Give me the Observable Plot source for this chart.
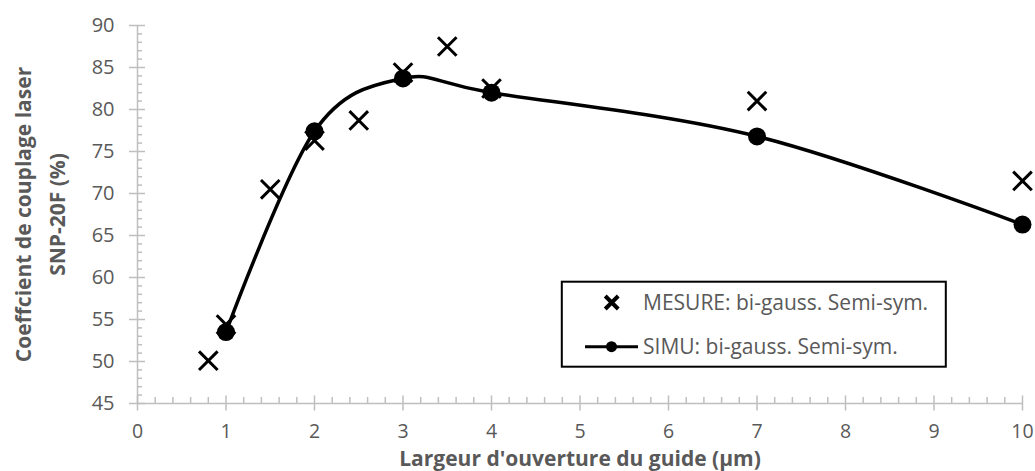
<!DOCTYPE html>
<html>
<head>
<meta charset="utf-8">
<script src="https://cdn.jsdelivr.net/npm/d3@7"></script>
<script src="https://cdn.jsdelivr.net/npm/@observablehq/plot@0.6"></script>
<style>
  html, body { margin: 0; padding: 0; background: #fff; }
  #wrap { position: relative; width: 1035px; height: 471px; font-family: "Open Sans", sans-serif; }
  #legend { position: absolute; left: 0; top: 0; pointer-events: none; }
</style>
</head>
<body>
<div id="wrap"></div>
<script>
// ---- Data ----
const mesureX = [0.8, 1, 1.5, 2, 2.5, 3, 3.5, 4, 7, 10];
const mesureY = [50.1, 54.4, 70.5, 76.3, 78.7, 84.4, 87.5, 82.5, 81.0, 71.5];
const simuX = [1, 2, 3, 4, 7, 10];
const simuY = [53.5, 77.4, 83.7, 82.0, 76.8, 66.3];
const xTicks = [0, 1, 2, 3, 4, 5, 6, 7, 8, 9, 10];
const yTicks = [45, 50, 55, 60, 65, 70, 75, 80, 85, 90];
const xLabel = "Largeur d'ouverture du guide (µm)";
const yLabel = "Coeffcient de couplage laser\nSNP-20F (%)";
const seriesNames = ["MESURE: bi-gauss. Semi-sym.", "SIMU: bi-gauss. Semi-sym."];

const mesure = mesureX.map((x, i) => ({x, y: mesureY[i]}));
const simu = simuX.map((x, i) => ({x, y: simuY[i]}));
const xMinor = d3.range(0, 10.0001, 0.2).map(v => +v.toFixed(1)).filter(v => Math.abs(v - Math.round(v)) > 1e-6);
const yMinor = d3.range(45, 90.0001, 1).filter(v => v % 5 !== 0);

const axisColor = "#bfbfbf";
const textColor = "#595959";

const chart = Plot.plot({
  width: 1035,
  height: 471,
  marginLeft: 137,
  marginRight: 13,
  marginTop: 25,
  marginBottom: 68,
  style: {fontFamily: "Open Sans", background: "white", overflow: "visible"},
  x: {domain: [0, 10]},
  y: {domain: [45, 90]},
  marks: [
    Plot.ruleX([0], {stroke: axisColor, strokeWidth: 1.5}),
    Plot.ruleY([45], {stroke: axisColor, strokeWidth: 1.5}),
    // y ticks
    Plot.axisY(yMinor, {tickSize: 5, dx: 5, text: null, label: null, stroke: axisColor, strokeWidth: 1.5}),
    Plot.axisY(yTicks, {tickSize: 16, dx: 8, text: null, label: null, stroke: axisColor, strokeWidth: 1.5}),
    Plot.axisY(yTicks, {tickSize: 0, tickPadding: 23, label: null, fontSize: 20, fill: textColor}),
    // x ticks
    Plot.axisX(xMinor, {tickSize: 6, dy: -6, text: null, label: null, stroke: axisColor, strokeWidth: 1.5}),
    Plot.axisX(xTicks, {tickSize: 15, dy: -7.5, text: null, label: null, stroke: axisColor, strokeWidth: 1.5}),
    Plot.axisX(xTicks, {tickSize: 0, tickPadding: 21, label: null, fontSize: 19.5, fill: textColor}),
    // axis titles
    Plot.text([xLabel], {text: d => d, frameAnchor: "bottom", textAnchor: "middle", dy: 56, lineAnchor: "middle", fontSize: 21, fontWeight: "bold", fill: textColor}),
    Plot.text([yLabel], {text: d => d, frameAnchor: "left", textAnchor: "middle", dx: -100, rotate: -90, lineAnchor: "middle", lineHeight: 1.6, fontSize: 21, fontWeight: "bold", fill: textColor}),
    // data
    Plot.dot(mesure, {x: "x", y: "y", symbol: "times", r: 8.5, stroke: "black", strokeWidth: 3}),
    Plot.line(simu, {x: "x", y: "y", curve: "cardinal", stroke: "black", strokeWidth: 3.5}),
    Plot.dot(simu, {x: "x", y: "y", r: 9, fill: "black"})
  ]
});
const wrap = document.getElementById("wrap");
wrap.appendChild(chart);

// ---- Legend (overlay) ----
const svg = d3.select(wrap).append("svg").attr("id", "legend")
  .attr("width", 1035).attr("height", 471);
svg.append("rect").attr("x", 561.8).attr("y", 281.7).attr("width", 384).attr("height", 85)
  .attr("fill", "white").attr("stroke", "black").attr("stroke-width", 2);
// row 1: times symbol
const cx1 = 611.7, cy1 = 302.5, h = 6.5;
svg.append("path").attr("d", `M${cx1-h},${cy1-h}L${cx1+h},${cy1+h}M${cx1-h},${cy1+h}L${cx1+h},${cy1-h}`)
  .attr("stroke", "black").attr("stroke-width", 4).attr("fill", "none");
svg.append("text").attr("x", 643).attr("y", 309.5).text(seriesNames[0])
  .attr("font-family", "Open Sans").attr("font-size", 21).attr("fill", textColor);
// row 2: line + dot
const cy2 = 346.7;
svg.append("line").attr("x1", 585).attr("x2", 638).attr("y1", cy2).attr("y2", cy2)
  .attr("stroke", "black").attr("stroke-width", 3);
svg.append("circle").attr("cx", 611.5).attr("cy", cy2).attr("r", 5.5).attr("fill", "black");
svg.append("text").attr("x", 643).attr("y", 353.5).text(seriesNames[1])
  .attr("font-family", "Open Sans").attr("font-size", 21).attr("fill", textColor);
</script>
</body>
</html>
